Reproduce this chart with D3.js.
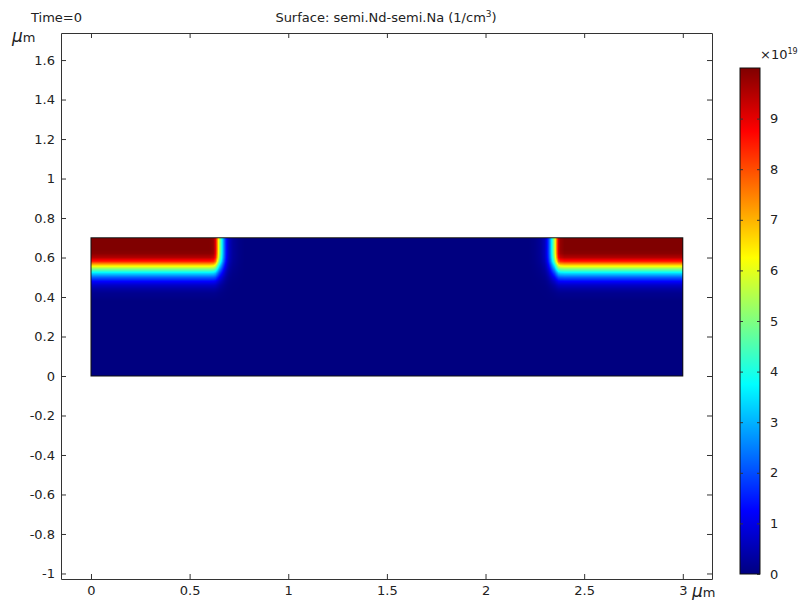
<!DOCTYPE html>
<html>
<head>
<meta charset="utf-8">
<script src="https://cdn.jsdelivr.net/npm/d3@7"></script>
<style>
  html, body { margin: 0; padding: 0; background: #fff; }
  svg text { font-family: "DejaVu Sans", sans-serif; fill: #222; }
</style>
</head>
<body>
<svg id="chart" width="801" height="600"></svg>
<script>
// ---------------- data ----------------
const titleMain = "Surface: semi.Nd-semi.Na (1/cm";
const titleSup = "3";
const titleEnd = ")";
const timeText = "Time=0";
const xTicks = [0, 0.5, 1, 1.5, 2, 2.5, 3];
const yTicks = [1.6, 1.4, 1.2, 1, 0.8, 0.6, 0.4, 0.2, 0, -0.2, -0.4, -0.6, -0.8, -1];
const colorTicks = [0, 1, 2, 3, 4, 5, 6, 7, 8, 9];
const colorMax = 10;            // in units of 1e19 cm^-3
// geometry of the device (µm)
const deviceX = [0, 3];
const deviceY = [0, 0.7];
// vertical doping profile below the top surface (depth µm -> value x1e19)
const depthUm  = [0, 0.06, 0.08, 0.10, 0.12, 0.14, 0.16, 0.18, 0.20, 0.22, 0.24, 0.26, 0.28, 0.32, 0.70];
const depthVal = [10, 10, 9.9, 9.5, 8.5, 6.6, 4.9, 3.4, 2.2, 1.3, 0.7, 0.35, 0.15, 0.0, 0.0];
// lateral fraction of a contact implant (distance from outer edge, µm -> fraction)
const latUm   = [0, 0.60, 0.62, 0.63, 0.64, 0.65, 0.66, 0.67, 0.68, 0.69, 0.70, 0.72, 0.75, 0.78, 3.0];
const latFrac = [1, 1, 0.98, 0.92, 0.75, 0.56, 0.43, 0.30, 0.19, 0.11, 0.06, 0.025, 0.008, 0, 0];
// jet colormap stops
const jetPos = [0, 0.125, 0.375, 0.625, 0.875, 1];
const jetCol = ["#000080", "#0000ff", "#00ffff", "#ffff00", "#ff0000", "#800000"];

// ---------------- layout ----------------
const svg = d3.select("#chart");
const plot = { left: 61, right: 712, top: 33, bottom: 579 };
const x = d3.scaleLinear().domain([-0.152, 3.148]).range([plot.left, plot.right]);
const y = d3.scaleLinear().domain([1.737, -1.028]).range([plot.top, plot.bottom]);

const depthScale = d3.scaleLinear().domain(depthUm).range(depthVal).clamp(true);
const latScale = d3.scaleLinear().domain(latUm).range(latFrac).clamp(true);
const color = d3.scaleLinear().domain(jetPos.map(p => p * colorMax)).range(jetCol)
  .interpolate(d3.interpolateRgb).clamp(true);

function field(xu, yu) {
  const d = deviceY[1] - yu;
  const lat = Math.max(latScale(xu - deviceX[0]), latScale(deviceX[1] - xu));
  return depthScale(d) * lat;
}

// ---------------- surface raster ----------------
const px0 = Math.round(x(deviceX[0])), px1 = Math.round(x(deviceX[1]));
const py0 = Math.round(y(deviceY[1])), py1 = Math.round(y(deviceY[0]));
const W = px1 - px0, H = py1 - py0;
const canvas = document.createElement("canvas");
canvas.width = W; canvas.height = H;
const ctx = canvas.getContext("2d");
const img = ctx.createImageData(W, H);
for (let j = 0; j < H; j++) {
  const yu = y.invert(py0 + j + 0.5);
  for (let i = 0; i < W; i++) {
    const xu = x.invert(px0 + i + 0.5);
    const c = d3.rgb(color(field(xu, yu)));
    const k = (j * W + i) * 4;
    img.data[k] = c.r; img.data[k + 1] = c.g; img.data[k + 2] = c.b; img.data[k + 3] = 255;
  }
}
ctx.putImageData(img, 0, 0);
svg.append("image").attr("x", px0).attr("y", py0).attr("width", W).attr("height", H)
  .attr("preserveAspectRatio", "none").attr("href", canvas.toDataURL());
svg.append("rect").attr("x", x(deviceX[0])).attr("y", y(deviceY[1]))
  .attr("width", x(deviceX[1]) - x(deviceX[0])).attr("height", y(deviceY[0]) - y(deviceY[1]))
  .attr("fill", "none").attr("stroke", "#111").attr("stroke-width", 1);

// ---------------- axes ----------------
const fmt = d => String(+d.toFixed(1)).replace("−", "-");
const axisColor = "#333";
function styleAxis(g) {
  g.selectAll("path").attr("stroke", axisColor);
  g.selectAll("line").attr("stroke", axisColor);
  g.selectAll("text").attr("fill", "#222").style("font-size", "13px").style("font-family", "DejaVu Sans");
}
svg.append("g").attr("transform", `translate(0,${plot.bottom})`)
  .call(d3.axisBottom(x).tickValues(xTicks).tickFormat(fmt).tickSizeInner(-5).tickSizeOuter(0).tickPadding(7))
  .call(styleAxis);
svg.append("g").attr("transform", `translate(0,${plot.top})`)
  .call(d3.axisTop(x).tickValues(xTicks).tickFormat("").tickSizeInner(-5).tickSizeOuter(0))
  .call(styleAxis);
svg.append("g").attr("transform", `translate(${plot.left},0)`)
  .call(d3.axisLeft(y).tickValues(yTicks).tickFormat(fmt).tickSizeInner(-5).tickSizeOuter(0).tickPadding(6))
  .call(styleAxis);
svg.append("g").attr("transform", `translate(${plot.right},0)`)
  .call(d3.axisRight(y).tickValues(yTicks).tickFormat("").tickSizeInner(-5).tickSizeOuter(0))
  .call(styleAxis);
svg.selectAll(".domain").attr("fill", "none");

// unit labels
function unitLabel(tx, ty, anchor) {
  const t = svg.append("text").attr("x", tx).attr("y", ty).attr("text-anchor", anchor)
    .style("font-size", "13px");
  t.append("tspan").text("μ").style("font-style", "italic").style("font-size", "17px");
  t.append("tspan").text("m");
}
unitLabel(12, 42, "start");
unitLabel(692, 597, "start");

// titles
const title = svg.append("text").attr("x", 386).attr("y", 22).attr("text-anchor", "middle")
  .style("font-size", "13px");
title.append("tspan").text(titleMain);
title.append("tspan").text(titleSup).attr("dy", -5).style("font-size", "9px");
title.append("tspan").text(titleEnd).attr("dy", 5);
svg.append("text").attr("x", 31).attr("y", 22).style("font-size", "13px").text(timeText);

// ---------------- colorbar ----------------
const cb = { x: 740, w: 20, top: 68, bottom: 574 };
const cy = d3.scaleLinear().domain([0, colorMax]).range([cb.bottom, cb.top]);
const defs = svg.append("defs");
const grad = defs.append("linearGradient").attr("id", "jet").attr("x1", 0).attr("y1", 1).attr("x2", 0).attr("y2", 0);
grad.selectAll("stop").data(jetPos).join("stop")
  .attr("offset", d => d).attr("stop-color", (d, i) => jetCol[i]);
svg.append("rect").attr("x", cb.x).attr("y", cb.top).attr("width", cb.w).attr("height", cb.bottom - cb.top)
  .attr("fill", "url(#jet)").attr("stroke", "#111").attr("stroke-width", 1);
const cbAxis = svg.append("g").attr("transform", `translate(${cb.x + cb.w},0)`)
  .call(d3.axisRight(cy).tickValues(colorTicks).tickFormat(d => String(d)).tickSizeInner(-3).tickSizeOuter(0).tickPadding(10))
  .call(styleAxis);
cbAxis.select(".domain").remove();
svg.append("g").attr("transform", `translate(${cb.x},0)`)
  .call(d3.axisLeft(cy).tickValues(colorTicks.filter(d => d > 0)).tickFormat("").tickSizeInner(-3).tickSizeOuter(0))
  .call(g => g.select(".domain").remove())
  .call(styleAxis);
const exp = svg.append("text").attr("x", 760).attr("y", 59).style("font-size", "13px");
exp.append("tspan").text("×10");
exp.append("tspan").text("19").attr("dy", -5).style("font-size", "8px");
</script>
</body>
</html>
